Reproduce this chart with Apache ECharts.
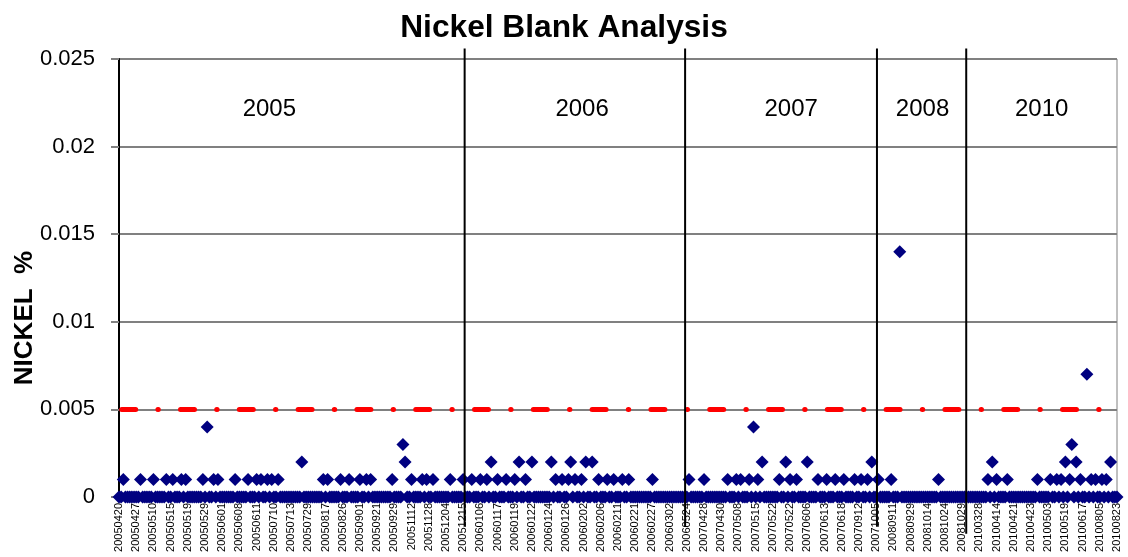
<!DOCTYPE html>
<html>
<head>
<meta charset="utf-8">
<script src="https://cdn.jsdelivr.net/npm/echarts@6/dist/echarts.min.js"></script>
<style>html,body{margin:0;padding:0;background:#fff}#c{width:1128px;height:557px}</style>
</head>
<body>
<div id="c"></div>
<script>
// Nickel blank results, in thousandths of a percent, one entry per analysis (in order)
const ni2005 = [
  0,0,1,0,0,0,0,0,0,0,
  1,0,0,0,0,0,1,0,0,0,
  0,0,1,0,0,1,0,0,0,1,
  0,1,0,0,0,0,0,0,0,1,
  0,4,0,0,1,0,1,0,0,0,
  0,0,0,0,1,0,0,0,0,0,
  1,0,0,0,1,0,1,0,0,1,
  0,1,0,0,1,0,0,0,0,0,
  0,0,0,0,0,2,0,0,0,0,
  0,0,0,0,0,1,0,1,0,0,
  0,0,0,1,0,0,0,1,0,0,
  0,0,1,0,0,1,0,1,0,0,
  0,0,0,0,0,0,0,1,0,0,
  0,0,3,2,0,0,1,0,0,0,
  0,1,0,1,0,0,1,0,0,0,
  0,0,0,0,1,0,0,0,0,0,
  1
];
const ni2006 = [
  0,0,0,1,0,0,0,1,0,0,
  1,0,2,0,0,1,0,0,0,1,
  0,0,0,1,0,2,0,0,1,0,
  0,2,0,0,0,0,0,0,0,0,
  2,0,1,0,0,1,0,0,1,2,
  0,1,0,0,1,0,2,0,0,2,
  0,0,1,0,0,0,1,0,0,1,
  0,0,0,1,0,0,1,0,0,0,
  0,0,0,0,0,0,0,1,0,0,
  0,0,0,0,0,0,0,0,0,0,
  0,0,0
];
const ni2007 = [
  0,1,0,0,0,0,0,0,1,0,
  0,0,0,0,0,0,0,0,0,1,
  0,0,0,1,0,1,0,0,0,1,
  0,4,0,1,0,2,0,0,0,0,
  0,0,0,1,0,0,2,0,1,0,
  0,1,0,0,0,0,2,0,0,0,
  0,1,0,0,0,1,0,0,0,1,
  0,0,0,1,0,0,0,0,1,0,
  0,1,0,0,1,0,2,0,0,1
];
const ni2008 = [
  0,0,0,0,0,1,0,0,0,14,
  0,0,0,0,0,0,0,0,0,0,
  0,0,0,0,0,0,0,1,0,0,
  0,0,0,0,0,0,0,0,0,0,
  0
];
const ni2010 = [
  0,0,0,0,0,0,0,0,0,1,
  0,2,0,1,0,0,0,0,1,0,
  0,0,0,0,0,0,0,0,0,0,
  0,0,1,0,0,0,0,0,1,0,
  0,1,0,1,0,2,0,1,3,0,
  2,0,1,0,0,7,0,1,0,1,
  0,0,1,0,1,0,2,0,0,0
];
// Tick labels (every 8th analysis date)
const tickLabels = [
  "20050420","20050427","20050510","20050515","20050519","20050529","20050601","20050608","20050611","20050710",
  "20050713","20050729","20050817","20050826","20050901","20050921","20050929","20051112","20051128","20051204",
  "20051215",
  "20060106","20060117","20060119","20060122","20060124","20060126","20060202","20060206","20060211","20060221",
  "20060227","20060302","20060524",
  "20070428","20070430","20070508","20070515","20070522","20070522","20070606","20070613","20070618","20070912",
  "20071005",
  "20080911","20080929","20081014","20081024","20081029",
  "20100328","20100414","20100421","20100423","20100503","20100519","20100617","20100805","20100823"
];
const labelStep = 8;
const limitValue = 0.005; // reporting limit line
const yearNames = ["2005","2006","2007","2008","2010"];
const yearLabelX = [69.9, 215.3, 312.5, 373.6, 429.0];
const yearLabelY = 0.0221;
const separatorX = [160.7, 263.2, 352.4, 393.9];
const separatorTop = 0.0256;
const separatorBottom = [-0.0017, -0.0017, -0.0017, -0.0021];
const yAxisTitle = 'NICKEL  %';

const FONT = "'Liberation Sans', Arial, sans-serif";
const allValues = [].concat(ni2005, ni2006, ni2007, ni2008, ni2010);
const points = allValues.map((v, i) => [i, v / 1000]);
const maxIndex = allValues.length - 1;
const limitLine = [[0, limitValue], [maxIndex, limitValue]];

const chart = echarts.init(document.getElementById('c'), null, {renderer: 'canvas'});
chart.setOption({
  animation: false,
  backgroundColor: '#ffffff',
  title: {
    text: 'Nickel Blank Analysis',
    left: 'center',
    top: 7,
    textStyle: {fontFamily: FONT, fontSize: 31.7, fontWeight: 'bold', color: '#000'}
  },
  grid: {
    left: 119, right: 11, top: 59, bottom: 60,
    containLabel: false, outerBoundsMode: 'none',
    show: true, borderColor: '#808080', borderWidth: 1
  },
  xAxis: {
    type: 'value',
    min: 0,
    max: maxIndex,
    interval: labelStep,
    axisLine: {show: true, onZero: false, lineStyle: {color: '#000', width: 1}},
    axisTick: {show: false},
    splitLine: {show: false},
    axisLabel: {
      rotate: 90,
      margin: 6,
      fontFamily: FONT,
      fontSize: 11,
      color: '#000',
      showMinLabel: true,
      showMaxLabel: true,
      formatter: v => tickLabels[Math.round(v / labelStep)] || ''
    }
  },
  yAxis: {
    type: 'value',
    min: 0,
    max: 0.025,
    interval: 0.005,
    axisLine: {show: true, lineStyle: {color: '#000', width: 2}},
    axisTick: {show: true, length: 8, lineStyle: {color: '#808080', width: 2}},
    splitLine: {show: true, lineStyle: {color: '#808080', width: 2}},
    axisLabel: {margin: 24, fontFamily: FONT, fontSize: 22, color: '#000'}
  },
  series: [{
    type: 'line',
    name: 'Limit',
    data: limitLine,
    showSymbol: false,
    symbol: 'none',
    silent: true,
    z: 2,
    lineStyle: {color: '#ff0000', width: 5, opacity: 1, type: [14, 22.2, 0.4, 22.2], dashOffset: -2.7, cap: 'round'}
  }, {
    type: 'scatter',
    name: 'Nickel',
    data: points,
    symbol: 'diamond',
    symbolSize: [13, 13],
    itemStyle: {color: '#000080', borderWidth: 0, opacity: 1},
    clip: false,
    silent: true,
    z: 3
  }]
});

const graphics = [{
  type: 'text', silent: true, x: 25, y: 318, rotation: Math.PI / 2,
  style: {text: yAxisTitle, fontFamily: FONT, fontSize: 26, fontWeight: 'bold', fill: '#000', align: 'center', verticalAlign: 'middle'}
}];
separatorX.forEach((sx, i) => {
  const p1 = chart.convertToPixel({gridIndex: 0}, [sx, separatorTop]);
  const p2 = chart.convertToPixel({gridIndex: 0}, [sx, separatorBottom[i]]);
  graphics.push({
    type: 'line', z: 50, silent: true,
    shape: {x1: p1[0], y1: p1[1], x2: p2[0], y2: p2[1]},
    style: {stroke: '#000', lineWidth: 2}
  });
});
yearNames.forEach((name, i) => {
  const p = chart.convertToPixel({gridIndex: 0}, [yearLabelX[i], yearLabelY]);
  graphics.push({
    type: 'text', z: 50, silent: true, x: p[0], y: p[1],
    style: {text: name, fontFamily: FONT, fontSize: 24, fill: '#000', align: 'center', verticalAlign: 'middle'}
  });
});
chart.setOption({graphic: graphics});
</script>
</body>
</html>
